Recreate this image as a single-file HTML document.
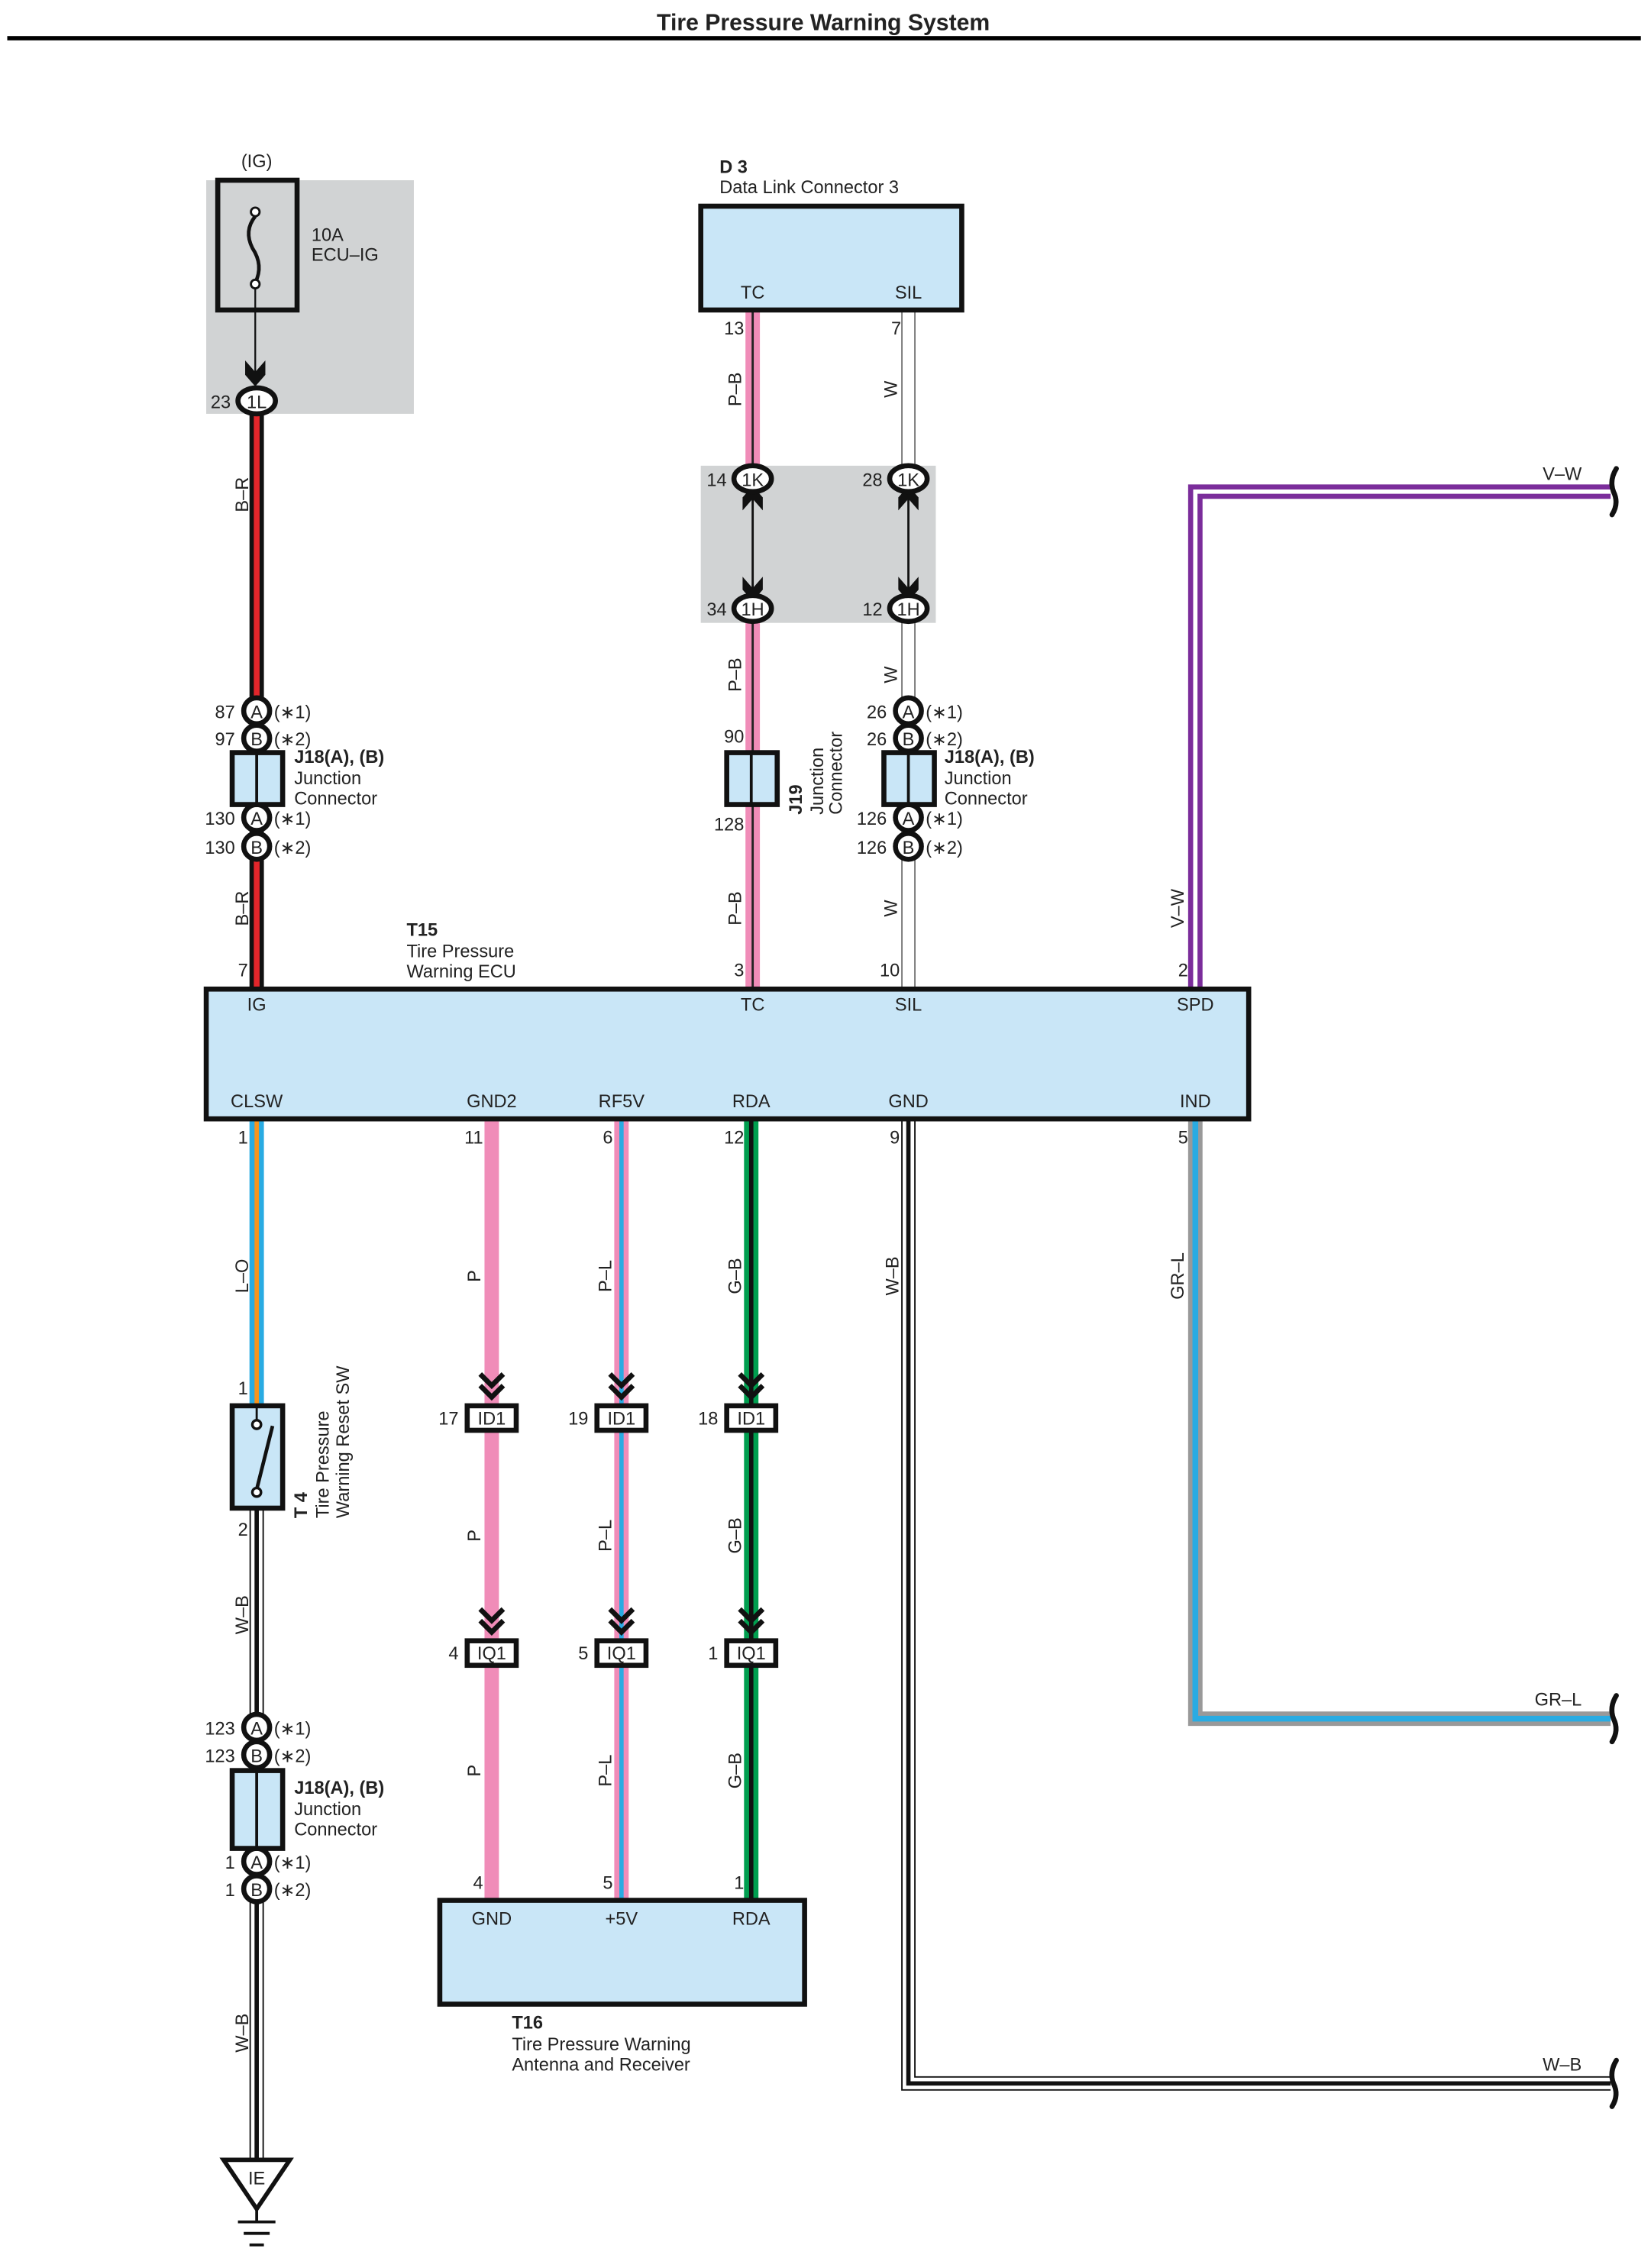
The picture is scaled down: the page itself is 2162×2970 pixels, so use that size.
<!DOCTYPE html>
<html><head><meta charset="utf-8"><style>
html,body{margin:0;padding:0;background:#fff}
svg{display:block}
text{font-family:"Liberation Sans",sans-serif;font-size:12.5px;fill:#222}
.b{font-weight:bold}
.m{text-anchor:middle}
.e{text-anchor:end}
</style></head><body>
<svg width="2162" height="2970" viewBox="0 0 1145 1573" xmlns="http://www.w3.org/2000/svg">
<rect width="1145" height="1573" fill="#fff"/>
<text x="571" y="21" class="b m" style="font-size:16px">Tire Pressure Warning System</text>
<rect x="5" y="25" width="1133" height="3" fill="#000"/>

<!-- gray boxes -->
<rect x="143" y="125" width="144" height="162" fill="#d1d3d4"/>
<rect x="486" y="323" width="163" height="109" fill="#d1d3d4"/>

<!-- wires -->
<g fill="none" stroke-linejoin="miter">
<path d="M178 287V686" stroke="#111" stroke-width="10"/><path d="M178 287V686" stroke="#e3262b" stroke-width="4"/>
<path d="M522 215V332M522 422V686" stroke="#f08cb8" stroke-width="10"/><path d="M522 215V332M522 422V686" stroke="#222" stroke-width="1.5"/>
<path d="M630 215V332M630 422V686" stroke="#777" stroke-width="10"/><path d="M630 215V332M630 422V686" stroke="#fff" stroke-width="8"/>
<path d="M829 686V341H1117" stroke="#7b2d9b" stroke-width="10"/><path d="M829 686V341H1117" stroke="#fff" stroke-width="3"/>
<path d="M178 776V975" stroke="#29abe2" stroke-width="10"/><path d="M178 776V975" stroke="#f7941d" stroke-width="3"/>
<path d="M178 1047V1498" stroke="#111" stroke-width="10"/><path d="M178 1047V1498" stroke="#fff" stroke-width="8"/><path d="M178 1047V1498" stroke="#111" stroke-width="3"/>
<path d="M341 776V1318" stroke="#f08cb8" stroke-width="10"/>
<path d="M431 776V1318" stroke="#f08cb8" stroke-width="10"/><path d="M431 776V1318" stroke="#29abe2" stroke-width="3"/>
<path d="M521 776V1318" stroke="#009e4f" stroke-width="10"/><path d="M521 776V1318" stroke="#111" stroke-width="3"/>
<path d="M630 776V1445H1117" stroke="#111" stroke-width="10"/><path d="M630 776V1445H1117" stroke="#fff" stroke-width="8"/><path d="M630 776V1445H1117" stroke="#111" stroke-width="3"/>
<path d="M829 776V1192H1117" stroke="#999" stroke-width="10"/><path d="M829 776V1192H1117" stroke="#29abe2" stroke-width="4"/>
</g>
<!-- breaks -->
<g fill="none" stroke="#111" stroke-width="3.5" stroke-linecap="round">
<path d="M1121 325q-5 8 -2 16q4 8 -1 16"/>
<path d="M1121 1176q-5 8 -2 16q4 8 -1 16"/>
<path d="M1121 1429q-5 8 -2 16q4 8 -1 16"/>
</g>
<text x="1097" y="333" class="e">V–W</text>
<text x="1097" y="1183" class="e">GR–L</text>
<text x="1097" y="1436" class="e">W–B</text>

<!-- fuse -->
<text x="178" y="116" class="m">(IG)</text>
<rect x="151" y="125" width="55" height="90" fill="none" stroke="#111" stroke-width="3.5"/>
<path d="M177 150q-8 10 -2 22q8 12 2 24" fill="none" stroke="#111" stroke-width="2.5"/>
<circle cx="177" cy="147" r="3" fill="#fff" stroke="#111" stroke-width="1.5"/>
<circle cx="177" cy="197" r="3" fill="#fff" stroke="#111" stroke-width="1.5"/>
<line x1="177" y1="200" x2="177" y2="265" stroke="#111" stroke-width="1.2"/>
<path d="M170 250l7 8 7-8v10l-7 8-7-8z" fill="#111"/>
<text x="216" y="167">10A</text><text x="216" y="181">ECU–IG</text>
<ellipse cx="178" cy="278" rx="13" ry="9" fill="#fff" stroke="#111" stroke-width="3.5"/>
<text x="178" y="283" class="m">1L</text><text x="160" y="283" class="e">23</text>

<!-- D3 -->
<text x="499" y="120" class="b">D 3</text><text x="499" y="134">Data Link Connector 3</text>
<rect x="486" y="143" width="181" height="72" fill="#c9e6f7" stroke="#111" stroke-width="3.5"/>
<text x="522" y="207" class="m">TC</text><text x="630" y="207" class="m">SIL</text>
<text x="516" y="232" class="e">13</text><text x="625" y="232" class="e">7</text>

<!-- 1K/1H -->
<g stroke="#111" stroke-width="1.5"><line x1="522" y1="345" x2="522" y2="410"/><line x1="630" y1="345" x2="630" y2="410"/></g>
<g fill="#111">
<path d="M515 354l7-8 7 8v-9l-7-8-7 8z"/><path d="M515 400l7 8 7-8v9l-7 8-7-8z"/>
<path d="M623 354l7-8 7 8v-9l-7-8-7 8z"/><path d="M623 400l7 8 7-8v9l-7 8-7-8z"/>
</g>
<g fill="#fff" stroke="#111" stroke-width="3.5">
<ellipse cx="522" cy="332" rx="13" ry="9"/><ellipse cx="630" cy="332" rx="13" ry="9"/>
<ellipse cx="522" cy="422" rx="13" ry="9"/><ellipse cx="630" cy="422" rx="13" ry="9"/>
</g>
<text x="522" y="337" class="m">1K</text><text x="630" y="337" class="m">1K</text>
<text x="522" y="427" class="m">1H</text><text x="630" y="427" class="m">1H</text>
<text x="504" y="337" class="e">14</text><text x="612" y="337" class="e">28</text>
<text x="504" y="427" class="e">34</text><text x="612" y="427" class="e">12</text>

<!-- J18 -->
<g fill="#fff" stroke="#111" stroke-width="3.5">
<circle cx="178" cy="493" r="9"/><circle cx="178" cy="512" r="9"/>
<circle cx="178" cy="567" r="9"/><circle cx="178" cy="587" r="9"/>
<circle cx="630" cy="493" r="9"/><circle cx="630" cy="512" r="9"/>
<circle cx="630" cy="567" r="9"/><circle cx="630" cy="587" r="9"/>
<circle cx="178" cy="1198" r="9"/><circle cx="178" cy="1217" r="9"/>
<circle cx="178" cy="1291" r="9"/><circle cx="178" cy="1310" r="9"/>
</g>
<g fill="#c9e6f7" stroke="#111" stroke-width="3.5">
<rect x="161" y="522" width="35" height="36"/><rect x="613" y="522" width="35" height="36"/>
<rect x="161" y="1228" width="35" height="54"/><rect x="504" y="522" width="35" height="36"/>
</g>
<g stroke="#111" stroke-width="2"><line x1="178" y1="522" x2="178" y2="558"/><line x1="630" y1="522" x2="630" y2="558"/><line x1="178" y1="1228" x2="178" y2="1282"/><line x1="521" y1="522" x2="521" y2="558"/></g>

<text x="178" y="498" class="m">A</text><text x="178" y="517" class="m">B</text><text x="178" y="572" class="m">A</text><text x="178" y="592" class="m">B</text>
<text x="630" y="498" class="m">A</text><text x="630" y="517" class="m">B</text><text x="630" y="572" class="m">A</text><text x="630" y="592" class="m">B</text>
<text x="178" y="1203" class="m">A</text><text x="178" y="1222" class="m">B</text><text x="178" y="1296" class="m">A</text><text x="178" y="1315" class="m">B</text>
<text x="163" y="498" class="e">87</text><text x="163" y="517" class="e">97</text><text x="163" y="572" class="e">130</text><text x="163" y="592" class="e">130</text>
<text x="615" y="498" class="e">26</text><text x="615" y="517" class="e">26</text><text x="615" y="572" class="e">126</text><text x="615" y="592" class="e">126</text>
<text x="163" y="1203" class="e">123</text><text x="163" y="1222" class="e">123</text><text x="163" y="1296" class="e">1</text><text x="163" y="1315" class="e">1</text>
<text x="190" y="498">(∗1)</text><text x="190" y="517">(∗2)</text><text x="190" y="572">(∗1)</text><text x="190" y="592">(∗2)</text>
<text x="642" y="498">(∗1)</text><text x="642" y="517">(∗2)</text><text x="642" y="572">(∗1)</text><text x="642" y="592">(∗2)</text>
<text x="190" y="1203">(∗1)</text><text x="190" y="1222">(∗2)</text><text x="190" y="1296">(∗1)</text><text x="190" y="1315">(∗2)</text>
<text x="204" y="529" class="b">J18(A), (B)</text><text x="204" y="544">Junction</text><text x="204" y="558">Connector</text>
<text x="655" y="529" class="b">J18(A), (B)</text><text x="655" y="544">Junction</text><text x="655" y="558">Connector</text>
<text x="204" y="1244" class="b">J18(A), (B)</text><text x="204" y="1259">Junction</text><text x="204" y="1273">Connector</text>
<text x="516" y="515" class="e">90</text><text x="516" y="576" class="e">128</text>
<text transform="translate(556 565) rotate(-90)" class="b">J19</text>
<text transform="translate(571 565) rotate(-90)">Junction</text>
<text transform="translate(584 565) rotate(-90)">Connector</text>

<!-- wire labels rotated -->
<g>
<text transform="translate(172 343) rotate(-90)" class="m">B–R</text>
<text transform="translate(172 630) rotate(-90)" class="m">B–R</text>
<text transform="translate(514 270) rotate(-90)" class="m">P–B</text>
<text transform="translate(514 468) rotate(-90)" class="m">P–B</text>
<text transform="translate(514 630) rotate(-90)" class="m">P–B</text>
<text transform="translate(622 270) rotate(-90)" class="m">W</text>
<text transform="translate(622 468) rotate(-90)" class="m">W</text>
<text transform="translate(622 630) rotate(-90)" class="m">W</text>
<text transform="translate(821 630) rotate(-90)" class="m">V–W</text>
<text transform="translate(172 885) rotate(-90)" class="m">L–O</text>
<text transform="translate(172 1120) rotate(-90)" class="m">W–B</text>
<text transform="translate(172 1410) rotate(-90)" class="m">W–B</text>
<text transform="translate(333 885) rotate(-90)" class="m">P</text>
<text transform="translate(333 1065) rotate(-90)" class="m">P</text>
<text transform="translate(333 1228) rotate(-90)" class="m">P</text>
<text transform="translate(424 885) rotate(-90)" class="m">P–L</text>
<text transform="translate(424 1065) rotate(-90)" class="m">P–L</text>
<text transform="translate(424 1228) rotate(-90)" class="m">P–L</text>
<text transform="translate(514 885) rotate(-90)" class="m">G–B</text>
<text transform="translate(514 1065) rotate(-90)" class="m">G–B</text>
<text transform="translate(514 1228) rotate(-90)" class="m">G–B</text>
<text transform="translate(623 885) rotate(-90)" class="m">W–B</text>
<text transform="translate(821 885) rotate(-90)" class="m">GR–L</text>
</g>

<!-- ECU -->
<text x="282" y="649" class="b">T15</text><text x="282" y="664">Tire Pressure</text><text x="282" y="678">Warning ECU</text>
<rect x="143" y="686" width="723" height="90" fill="#c9e6f7" stroke="#111" stroke-width="3.5"/>
<text x="172" y="677" class="e">7</text><text x="516" y="677" class="e">3</text><text x="624" y="677" class="e">10</text><text x="824" y="677" class="e">2</text>
<text x="178" y="701" class="m">IG</text><text x="522" y="701" class="m">TC</text><text x="630" y="701" class="m">SIL</text><text x="829" y="701" class="m">SPD</text>
<text x="178" y="768" class="m">CLSW</text><text x="341" y="768" class="m">GND2</text><text x="431" y="768" class="m">RF5V</text><text x="521" y="768" class="m">RDA</text><text x="630" y="768" class="m">GND</text><text x="829" y="768" class="m">IND</text>
<text x="172" y="793" class="e">1</text><text x="335" y="793" class="e">11</text><text x="425" y="793" class="e">6</text><text x="516" y="793" class="e">12</text><text x="624" y="793" class="e">9</text><text x="824" y="793" class="e">5</text>

<!-- switch -->
<rect x="161" y="975" width="35" height="71" fill="#c9e6f7" stroke="#111" stroke-width="3.5"/>
<line x1="178" y1="975" x2="178" y2="985" stroke="#111" stroke-width="1.5"/>
<line x1="178" y1="1033" x2="189" y2="989" stroke="#111" stroke-width="2.5"/>
<circle cx="178" cy="988" r="3" fill="#fff" stroke="#111" stroke-width="1.8"/>
<circle cx="178" cy="1035" r="3" fill="#fff" stroke="#111" stroke-width="1.8"/>
<text x="172" y="967" class="e">1</text><text x="172" y="1065" class="e">2</text>
<text transform="translate(213 1053) rotate(-90)" class="b">T 4</text>
<text transform="translate(228 1053) rotate(-90)">Tire Pressure</text>
<text transform="translate(242 1053) rotate(-90)">Warning Reset SW</text>

<!-- ID1 / IQ1 connectors -->
<g fill="none" stroke="#111" stroke-width="3.5">
<path d="M333 953l8 8 8-8M333 961l8 8 8-8"/><path d="M423 953l8 8 8-8M423 961l8 8 8-8"/><path d="M513 953l8 8 8-8M513 961l8 8 8-8"/>
<path d="M333 1116l8 8 8-8M333 1124l8 8 8-8"/><path d="M423 1116l8 8 8-8M423 1124l8 8 8-8"/><path d="M513 1116l8 8 8-8M513 1124l8 8 8-8"/>
</g>
<g fill="#fff" stroke="#111" stroke-width="3.5">
<rect x="324" y="975" width="34" height="17"/><rect x="414" y="975" width="34" height="17"/><rect x="504" y="975" width="34" height="17"/>
<rect x="324" y="1138" width="34" height="17"/><rect x="414" y="1138" width="34" height="17"/><rect x="504" y="1138" width="34" height="17"/>
</g>
<text x="341" y="988" class="m">ID1</text><text x="431" y="988" class="m">ID1</text><text x="521" y="988" class="m">ID1</text>
<text x="341" y="1151" class="m">IQ1</text><text x="431" y="1151" class="m">IQ1</text><text x="521" y="1151" class="m">IQ1</text>
<text x="318" y="988" class="e">17</text><text x="408" y="988" class="e">19</text><text x="498" y="988" class="e">18</text>
<text x="318" y="1151" class="e">4</text><text x="408" y="1151" class="e">5</text><text x="498" y="1151" class="e">1</text>

<!-- T16 -->
<rect x="305" y="1318" width="253" height="72" fill="#c9e6f7" stroke="#111" stroke-width="3.5"/>
<text x="335" y="1310" class="e">4</text><text x="425" y="1310" class="e">5</text><text x="516" y="1310" class="e">1</text>
<text x="341" y="1335" class="m">GND</text><text x="431" y="1335" class="m">+5V</text><text x="521" y="1335" class="m">RDA</text>
<text x="355" y="1407" class="b">T16</text><text x="355" y="1422">Tire Pressure Warning</text><text x="355" y="1436">Antenna and Receiver</text>

<!-- ground -->
<path d="M155 1498H201L178 1532Z" fill="#fff" stroke="#111" stroke-width="3"/>
<text x="178" y="1515" class="m">IE</text>
<g stroke="#111" stroke-width="2"><line x1="178" y1="1532" x2="178" y2="1541"/><line x1="165" y1="1541" x2="191" y2="1541"/><line x1="169" y1="1549" x2="187" y2="1549"/><line x1="173" y1="1557" x2="183" y2="1557"/></g>
</svg>
</body></html>
